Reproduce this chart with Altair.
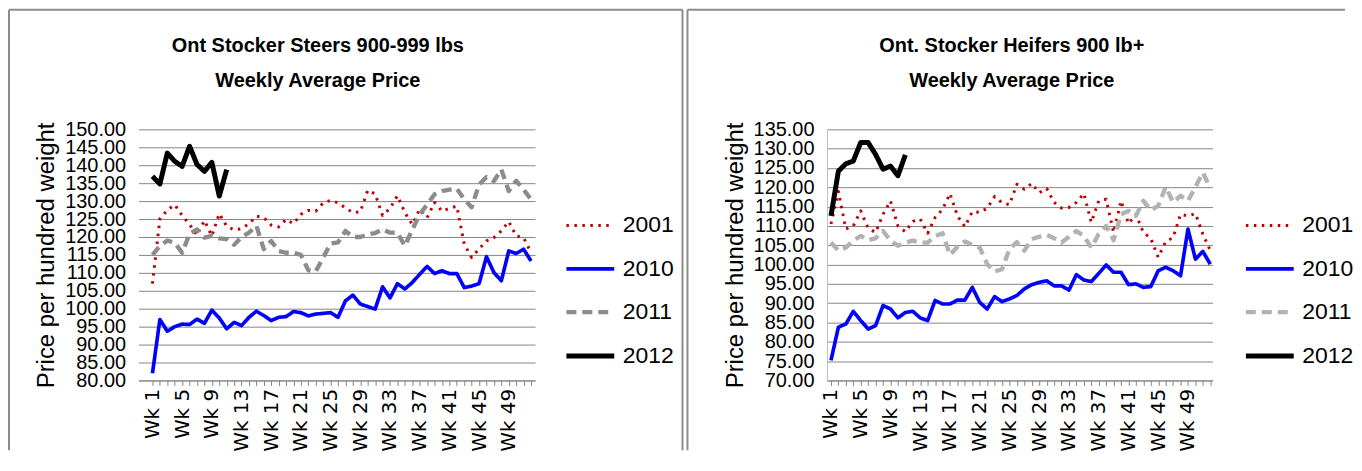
import altair as alt
import pandas as pd

weeks = list(range(1, 53))
years = ["2001", "2010", "2011", "2012"]
week_prefix = "Wk "

steers_2001 = [107.0, 125.0, 127.5, 129.0, 126.0, 123.5, 120.5, 124.6, 120.3, 126.5,
               123.0, 122.0, 122.3, 123.7, 125.8, 125.4, 123.3, 122.8, 124.9, 123.7,
               126.3, 127.4, 127.2, 129.5, 130.2, 129.5, 128.1, 126.8, 127.0, 133.0,
               132.0, 126.0, 128.0, 131.5, 126.8, 123.5, 127.7, 125.4, 129.6, 127.2,
               128.0, 128.6, 118.0, 114.3, 116.7, 118.9, 119.8, 121.7, 124.3, 120.3,
               119.8, 115.6]
steers_2010 = [82.0, 97.0, 93.7, 95.0, 95.7, 95.6, 97.1, 95.9, 99.6, 97.4,
               94.4, 96.2, 95.3, 97.6, 99.3, 98.1, 96.7, 97.6, 97.8, 99.2,
               98.9, 98.0, 98.5, 98.7, 98.9, 97.6, 102.2, 103.8, 101.3, 100.6,
               99.9, 106.1, 103.0, 107.0, 105.5, 107.3, 109.6, 111.8, 109.8, 110.6,
               109.8, 109.8, 105.9, 106.3, 107.0, 114.5, 110.1, 107.8, 116.1, 115.4,
               116.6, 113.3]
steers_2011 = [115.0, 117.5, 119.0, 118.4, 115.6, 120.9, 122.1, 119.8, 120.3, 119.6,
               119.4, 117.8, 120.0, 121.2, 123.1, 116.6, 118.9, 116.1, 115.6, 115.6,
               115.0, 110.7, 110.4, 114.3, 118.2, 118.5, 121.7, 120.0, 120.0, 120.7,
               121.1, 122.1, 121.2, 121.2, 117.5, 122.0, 126.3, 129.0, 131.9, 132.8,
               133.2, 133.5, 130.5, 128.3, 134.6, 136.7, 135.6, 138.8, 132.8, 135.7,
               133.2, 130.5]
steers_2012 = [136.9, 134.8, 143.4, 141.1, 139.7, 145.3, 140.2, 138.3, 140.8, 131.4, 138.8]

heifers_2001 = [110.5, 118.9, 109.2, 110.0, 113.9, 109.4, 108.3, 113.0, 116.5, 110.0,
                108.5, 111.2, 111.8, 108.1, 112.2, 114.3, 118.4, 112.6, 109.8, 113.7,
                113.5, 114.6, 117.6, 116.0, 115.5, 120.8, 119.5, 121.0, 118.6, 119.7,
                116.1, 114.6, 114.8, 116.1, 118.4, 110.9, 116.5, 116.9, 108.3, 116.5,
                110.6, 113.0, 108.3, 106.8, 101.9, 105.9, 107.0, 113.0, 112.6, 113.2,
                107.9, 103.6]
heifers_2010 = [75.2, 83.8, 84.6, 87.9, 85.5, 83.3, 84.2, 89.4, 88.5, 86.2,
                87.6, 87.9, 86.2, 85.5, 90.7, 89.8, 89.8, 90.8, 90.8, 94.1,
                90.2, 88.5, 91.7, 90.4, 91.1, 92.0, 93.7, 94.8, 95.4, 95.8,
                94.5, 94.5, 93.4, 97.4, 96.0, 95.6, 97.7, 99.9, 98.0, 98.0,
                94.8, 95.0, 94.1, 94.3, 98.4, 99.3, 98.4, 97.1, 109.2, 101.4,
                103.4, 100.1]
heifers_2011 = [105.7, 103.6, 104.4, 106.2, 107.4, 106.3, 106.8, 108.7, 106.2, 104.9,
                105.7, 106.2, 105.7, 105.7, 107.4, 108.1, 102.5, 104.6, 106.0, 105.1,
                104.4, 100.1, 98.2, 98.8, 104.0, 105.8, 103.6, 106.6, 107.2, 107.7,
                106.8, 105.7, 107.2, 108.7, 107.4, 104.4, 107.9, 110.0, 106.3, 113.0,
                113.9, 112.6, 116.5, 114.1, 115.2, 120.1, 116.1, 117.8, 116.5, 120.1,
                123.8, 119.8]
heifers_2012 = [112.6, 124.2, 126.1, 126.8, 131.6, 131.6, 128.5, 124.7, 125.5, 123.0, 128.4]

steers_ticks = list(range(80, 151, 5))
heifers_ticks = list(range(70, 136, 5))

FONT = "Liberation Sans"
XFONT = "DejaVu Sans"
GRID = "#868686"
FRAME = "#8c8c8c"


def make_df(series):
    rows = []
    for yr, ser in zip(years, series):
        for w, v in zip(weeks, ser):
            rows.append({"week": w, "year": yr, "price": v})
    return pd.DataFrame(rows)


def panel(series, title, ydomain, yticks, xdomain, width, grey, ydom_line,
          title_dx, legend_x, frame_left, frame_right, frame_close):
    df = make_df(series)
    leg = alt.Legend(title=None, orient="none", legendX=legend_x, legendY=71,
                     symbolType="stroke", symbolSize=2304, labelFont=FONT,
                     labelFontSize=23, labelColor="black", rowPadding=5,
                     labelOffset=6)
    colors = ["#C00000", "#0000FF", grey, "#000000"]
    dashes = [[2.5, 5.5], [1, 0], [10, 6], [1, 0]]
    widths = [3, 5, 4, 3.5]
    xaxis = alt.Axis(values=weeks,
                     labelExpr="(datum.value - 1) % 4 == 0 ? '" + week_prefix + "' + datum.value : ''",
                     labelAngle=270, labelFont=XFONT, labelFontSize=20,
                     labelColor="black", labelPadding=3, labelOverlap=False,
                     tickColor=GRID, tickSize=5, domainColor=GRID, grid=False,
                     title=None)
    yaxis = alt.Axis(values=yticks, format=".2f", labelFont=FONT, labelFontSize=20,
                     labelColor="black", ticks=False, labelPadding=13,
                     grid=True, gridColor=GRID, gridWidth=1,
                     domain=ydom_line, domainColor="#BFBFBF",
                     title="Price per hundred weight", titleFont=FONT,
                     titleFontSize=24, titleFontWeight="normal", titleColor="black",
                     titlePadding=6, labelOverlap=False)
    lines = alt.Chart(df).mark_line(strokeCap="butt", strokeJoin="round").encode(
        x=alt.X("week:Q", scale=alt.Scale(domain=xdomain, nice=False, zero=False), axis=xaxis),
        y=alt.Y("price:Q", scale=alt.Scale(domain=ydomain, nice=False, zero=False), axis=yaxis),
        color=alt.Color("year:N", scale=alt.Scale(domain=years, range=colors), legend=leg),
        strokeDash=alt.StrokeDash("year:N", scale=alt.Scale(domain=years, range=dashes), legend=leg),
        strokeWidth=alt.StrokeWidth("year:N", scale=alt.Scale(domain=years, range=widths), legend=leg),
    )
    one = pd.DataFrame({"k": [0]})
    layers = [lines]
    layers.append(alt.Chart(one).mark_rule(color=FRAME, strokeWidth=2).encode(
        x=alt.value(frame_left), x2=alt.value(frame_right), y=alt.value(-120)))
    layers.append(alt.Chart(one).mark_rule(color=FRAME, strokeWidth=2).encode(
        x=alt.value(frame_left), y=alt.value(-120), y2=alt.value(322)))
    if frame_close:
        layers.append(alt.Chart(one).mark_rule(color=FRAME, strokeWidth=2).encode(
            x=alt.value(frame_right), y=alt.value(-120), y2=alt.value(322)))
    return alt.layer(*layers).properties(
        width=width, height=252,
        title=alt.TitleParams(text=title, font=FONT, fontSize=20, fontWeight="bold",
                              color="black", lineHeight=35, anchor="middle",
                              offset=-82, dx=title_dx),
    )


left = panel([steers_2001, steers_2010, steers_2011, steers_2012],
             ["Ont Stocker Steers 900-999 lbs", "Weekly Average Price"],
             [80, 150], steers_ticks, [-0.88, 52.54], 398, "#8C8C8C", False,
             -19, 427, -130, 546, True)
right = panel([heifers_2001, heifers_2010, heifers_2011, heifers_2012],
              ["Ont. Stocker Heifers 900 lb+", "Weekly Average Price"],
              [70, 135], heifers_ticks, [0.46, 52.3], 387, "#B2B2B2", True,
              -8, 418, -140, 520, False)

chart = alt.hconcat(left, right, spacing=3).resolve_scale(
    x="independent", y="independent", color="independent",
    strokeDash="independent", strokeWidth="independent"
).properties(padding=0, background="white").configure_view(stroke=None)

chart.save("out.html", embed_options={"renderer": "svg", "actions": False})
